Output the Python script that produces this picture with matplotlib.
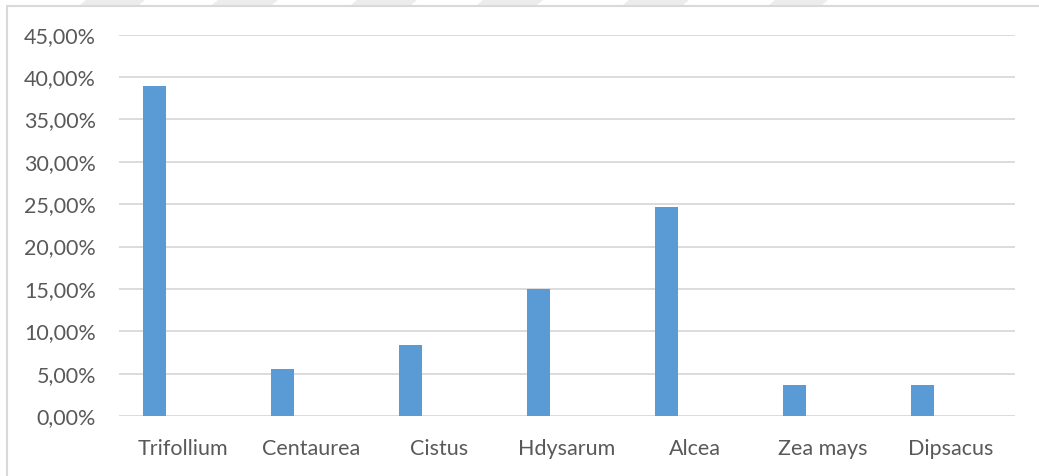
import matplotlib
matplotlib.use("Agg")
import matplotlib.pyplot as plt
from matplotlib.patches import Polygon, Rectangle
from matplotlib.ticker import FuncFormatter, MultipleLocator

# Share of each plant source
categories = ["Trifollium", "Centaurea", "Cistus", "Hdysarum", "Alcea", "Zea mays", "Dipsacus"]
shares = [0.3889, 0.0556, 0.0833, 0.1500, 0.2465, 0.0370, 0.0370]

W, H = 1039, 476
fig = plt.figure(figsize=(W / 100, H / 100), dpi=100)
plt.rcParams["font.family"] = ["Lato", "DejaVu Sans"]

# Faint decorative strip along the top edge
for x0, x1 in [(80, 139), (212, 272), (351, 411), (477, 537), (623, 683), (769, 822)]:
    pts = [((x0 + 6) / W, 1.0), ((x1 + 6) / W, 1.0), (x1 / W, 1 - 5 / H), (x0 / W, 1 - 5 / H)]
    fig.patches.append(Polygon(pts, closed=True, transform=fig.transFigure,
                               facecolor="#ececec", edgecolor="none", zorder=0))

# Chart frame (extends past right/bottom edges)
fig.patches.append(Rectangle((6.7 / W, -0.1), 1.2, (1 - 5.5 / H) + 0.1,
                             transform=fig.transFigure, facecolor="white",
                             edgecolor="#d9d9d9", linewidth=1.5, zorder=1))

ax = fig.add_axes([119 / W, 1 - 416 / H, (1015 - 119) / W, (416 - 34.7) / H])
ax.set_zorder(5)
ax.set_facecolor("none")

x = list(range(len(categories)))
ax.bar([i - 0.2225 for i in x], shares, width=0.175, color="#5b9bd5", zorder=3)

ax.set_xlim(-0.5, len(categories) - 0.5)
ax.set_ylim(0, 0.45)
ax.yaxis.set_major_locator(MultipleLocator(0.05))
ax.yaxis.set_major_formatter(FuncFormatter(lambda v, p: f"{v * 100:.2f}%".replace(".", ",")))
ax.grid(axis="y", color="#d9d9d9", linewidth=1.3, zorder=0)
ax.set_xticks(x)
ax.set_xticklabels(categories)

for s in ax.spines.values():
    s.set_visible(False)
ax.tick_params(axis="both", length=0, labelsize=15.5, labelcolor="#595959")
ax.tick_params(axis="y", pad=16.5)
ax.tick_params(axis="x", pad=16.5)

fig.savefig("out.png", dpi=100)
